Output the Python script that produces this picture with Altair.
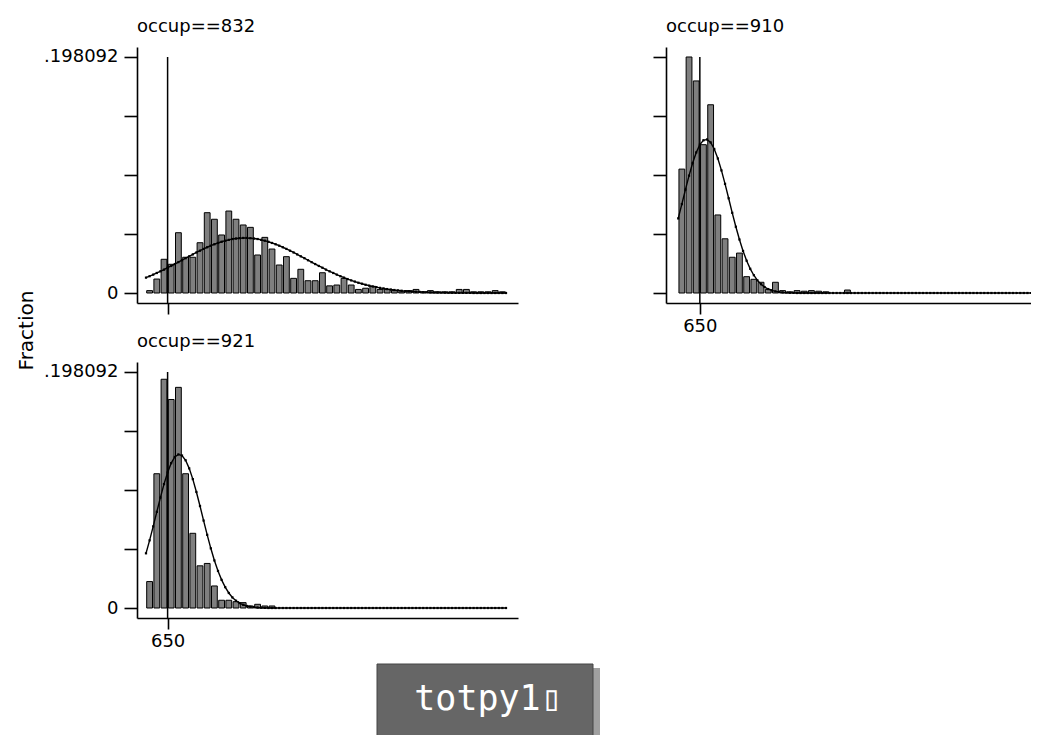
import altair as alt
import pandas as pd

# ---------------- data ----------------
BIN_LEFT = list(range(590, 1590, 20))      # 50 histogram bins, width 20
BIN_WIDTH = 20
CURVE_X = list(range(590, 1600, 10))       # evaluation points of the overlaid curve

FRAC_832 = [0.0020, 0.0117, 0.0283, 0.0241, 0.0506, 0.0300, 0.0300, 0.0422, 0.0674, 0.0619,
            0.0487, 0.0688, 0.0619, 0.0571, 0.0551, 0.0319, 0.0467, 0.0369, 0.0235, 0.0305,
            0.0123, 0.0199, 0.0103, 0.0103, 0.0170, 0.0060, 0.0067, 0.0123, 0.0067, 0.0030,
            0.0040, 0.0056, 0.0030, 0.0030, 0.0020, 0.0010, 0.0020, 0.0030, 0.0010, 0.0020,
            0.0010, 0.0010, 0.0010, 0.0030, 0.0030, 0.0010, 0.0010, 0.0010, 0.0020, 0.0010]

FRAC_910 = [0.1040, 0.198092, 0.1780, 0.1245, 0.1580, 0.0655, 0.0455, 0.0300, 0.0335, 0.0137,
            0.0115, 0.0090, 0.0030, 0.0090, 0.0020, 0.0010, 0.0020, 0.0015, 0.0020, 0.0015,
            0.0010, 0, 0, 0.0025, 0, 0, 0, 0, 0, 0,
            0, 0, 0, 0, 0, 0, 0, 0, 0, 0,
            0, 0, 0, 0, 0, 0, 0, 0, 0, 0]

FRAC_921 = [0.0222, 0.1127, 0.1920, 0.1750, 0.1852, 0.1127, 0.0627, 0.0354, 0.0374, 0.0185,
            0.0065, 0.0065, 0.0053, 0.0045, 0.0017, 0.0031, 0.0017, 0.0017, 0, 0,
            0, 0, 0, 0, 0, 0, 0, 0, 0, 0,
            0, 0, 0, 0, 0, 0, 0, 0, 0, 0,
            0, 0, 0, 0, 0, 0, 0, 0, 0, 0]

NORM_832 = [0.0129, 0.0141, 0.0154, 0.0168, 0.0182, 0.0196, 0.0212, 0.0227, 0.0243, 0.0259,
            0.0275, 0.0292, 0.0308, 0.0324, 0.0340, 0.0355, 0.0370, 0.0384, 0.0397, 0.0409,
            0.0420, 0.0430, 0.0439, 0.0446, 0.0453, 0.0457, 0.0460, 0.0462, 0.0462, 0.0460,
            0.0457, 0.0453, 0.0446, 0.0439, 0.0430, 0.0420, 0.0409, 0.0397, 0.0384, 0.0370,
            0.0355, 0.0340, 0.0324, 0.0308, 0.0292, 0.0275, 0.0259, 0.0243, 0.0227, 0.0212,
            0.0196, 0.0182, 0.0168, 0.0154, 0.0141, 0.0129, 0.0117, 0.0106, 0.0096, 0.0086,
            0.0078, 0.0069, 0.0062, 0.0055, 0.0049, 0.0043, 0.0038, 0.0033, 0.0029, 0.0025,
            0.0022, 0.0019, 0.0016, 0.0014, 0.0012, 0.0010, 0.0009, 0.0007, 0.0006, 0.0005,
            0.0004, 0.0004, 0.0003, 0.0003, 0.0002, 0.0002, 0.0001, 0.0001, 0.0001, 0.0001,
            0.0001, 0, 0, 0, 0, 0, 0, 0, 0, 0, 0]

NORM_910 = [0.0626, 0.0746, 0.0868, 0.0985, 0.1091, 0.1180, 0.1245, 0.1282, 0.1289, 0.1264,
            0.1209, 0.1129, 0.1029, 0.0916, 0.0795, 0.0673, 0.0556, 0.0449, 0.0353, 0.0271,
            0.0203, 0.0149, 0.0106, 0.0074, 0.0050, 0.0033, 0.0022, 0.0014, 0.0008, 0.0005,
            0.0003, 0.0002, 0.0001, 0, 0, 0, 0, 0, 0, 0,
            0, 0, 0, 0, 0, 0, 0, 0, 0, 0,
            0, 0, 0, 0, 0, 0, 0, 0, 0, 0,
            0, 0, 0, 0, 0, 0, 0, 0, 0, 0,
            0, 0, 0, 0, 0, 0, 0, 0, 0, 0,
            0, 0, 0, 0, 0, 0, 0, 0, 0, 0,
            0, 0, 0, 0, 0, 0, 0, 0, 0, 0, 0]

NORM_921 = [0.0459, 0.0568, 0.0685, 0.0807, 0.0927, 0.1040, 0.1138, 0.1216, 0.1268, 0.1289,
            0.1280, 0.1240, 0.1172, 0.1082, 0.0974, 0.0856, 0.0734, 0.0614, 0.0501, 0.0399,
            0.0311, 0.0236, 0.0175, 0.0126, 0.0089, 0.0061, 0.0041, 0.0027, 0.0017, 0.0011,
            0.0007, 0.0004, 0.0002, 0.0001, 0, 0, 0, 0, 0, 0,
            0, 0, 0, 0, 0, 0, 0, 0, 0, 0,
            0, 0, 0, 0, 0, 0, 0, 0, 0, 0,
            0, 0, 0, 0, 0, 0, 0, 0, 0, 0,
            0, 0, 0, 0, 0, 0, 0, 0, 0, 0,
            0, 0, 0, 0, 0, 0, 0, 0, 0, 0,
            0, 0, 0, 0, 0, 0, 0, 0, 0, 0, 0]

TITLES = ["occup==832", "occup==910", "occup==921"]
Y_TICKS = [0, 0.049523, 0.099046, 0.148569, 0.198092]
X_TICKS = [650]
X_LINE = 650
Y_TOP = 0.198092
Y_DOMAIN = [-0.008393, 0.206485]
Y_TITLE = "Fraction"
BOX_TEXT = "totpy1\u25af"

FONT = "DejaVu Sans"
PX_PER_UNIT = 0.36


def make_panel(title, fracs, curve, width, xmin, ylabels, xlabels, ytitle=False, extra=None):
    xmax = xmin + width / PX_PER_UNIT
    xs = alt.Scale(domain=[xmin, xmax], nice=False, zero=False)
    ys = alt.Scale(domain=Y_DOMAIN, nice=False, zero=False)
    xaxis = alt.Axis(values=X_TICKS, labels=xlabels, title=None, grid=False,
                     tickSize=11, labelPadding=3, labelFlush=False)
    yargs = dict(values=Y_TICKS, labels=ylabels, grid=False, tickSize=13, labelPadding=6,
                 labelExpr="datum.value == 0 ? '0' : (datum.value > 0.198 ? '.198092' : '')")
    if ytitle:
        yargs.update(title=Y_TITLE, titleX=-105, titleY=283, titleAngle=270,
                     titleAlign="center", titleBaseline="alphabetic", titleFontSize=20,
                     titleFont=FONT, titleFontWeight="normal", titleColor="black")
    else:
        yargs["title"] = None
    yaxis = alt.Axis(**yargs)

    bar_df = pd.DataFrame({"x": BIN_LEFT,
                           "x2": [b + BIN_WIDTH for b in BIN_LEFT],
                           "y": fracs})
    bar_df["y0"] = 0.0
    bar_df = bar_df[bar_df["y"] > 0]
    bars = alt.Chart(bar_df).mark_bar(
        color="#7f7f7f", stroke="black", strokeWidth=1, xOffset=0.7, x2Offset=-0.7,
        opacity=1, clip=True
    ).encode(
        x=alt.X("x:Q", scale=xs, axis=xaxis), x2="x2:Q",
        y=alt.Y("y:Q", scale=ys, axis=yaxis), y2="y0:Q",
    )

    rule_df = pd.DataFrame({"x": [X_LINE], "y": [Y_TOP], "y2": [Y_DOMAIN[0]]})
    rule = alt.Chart(rule_df).mark_rule(color="black", strokeWidth=1.5).encode(
        x=alt.X("x:Q", scale=xs, axis=xaxis),
        y=alt.Y("y:Q", scale=ys, axis=yaxis), y2="y2:Q",
    )

    curve_df = pd.DataFrame({"x": CURVE_X, "y": curve})
    line = alt.Chart(curve_df).mark_line(color="black", strokeWidth=1.4, clip=True).encode(
        x=alt.X("x:Q", scale=xs, axis=xaxis),
        y=alt.Y("y:Q", scale=ys, axis=yaxis),
    )
    pts = alt.Chart(curve_df).mark_square(color="black", size=5, opacity=1, clip=True).encode(
        x=alt.X("x:Q", scale=xs, axis=xaxis),
        y=alt.Y("y:Q", scale=ys, axis=yaxis),
    )
    head = alt.Chart(pd.DataFrame({"t": [title]})).mark_text(
        font=FONT, fontSize=18, color="black", align="left", baseline="alphabetic"
    ).encode(x=alt.value(0), y=alt.value(-15), text="t:N")

    layers = [bars, rule, line, pts, head] + (extra or [])
    return alt.layer(*layers).properties(width=width, height=256)


one = pd.DataFrame({"a": [0]})
shadow = alt.Chart(one).mark_rect(color="#a0a0a0").encode(
    x=alt.value(247), x2=alt.value(463), y=alt.value(306), y2=alt.value(385))
box = alt.Chart(one).mark_rect(color="#666666", stroke="#444444", strokeWidth=1).encode(
    x=alt.value(240), x2=alt.value(456), y=alt.value(302), y2=alt.value(385))
label = alt.Chart(one).mark_text(font="DejaVu Sans Mono", fontSize=35, color="white",
                                 align="center", baseline="alphabetic").encode(
    x=alt.value(351), y=alt.value(348), text=alt.value(BOX_TEXT))

p1 = make_panel(TITLES[0], FRAC_832, NORM_832, 381, 565, True, False, ytitle=True)
p2 = make_panel(TITLES[1], FRAC_910, NORM_910, 365, 556, False, True)
p3 = make_panel(TITLES[2], FRAC_921, NORM_921, 381, 565, True, True, extra=[shadow, box, label])

chart = alt.concat(
    p1, p2, p3, columns=2, spacing={"row": 59, "column": 148}, bounds="flush"
).properties(
    padding={"left": 8, "top": 10, "right": 0, "bottom": 0},
    background="white",
).configure_view(stroke=None).configure_axis(
    domainColor="black", tickColor="black", labelColor="black",
    labelFont=FONT, labelFontSize=18, domainWidth=1.6, tickWidth=1.6,
)

chart.save("out.html", embed_options={"renderer": "svg", "actions": False})
